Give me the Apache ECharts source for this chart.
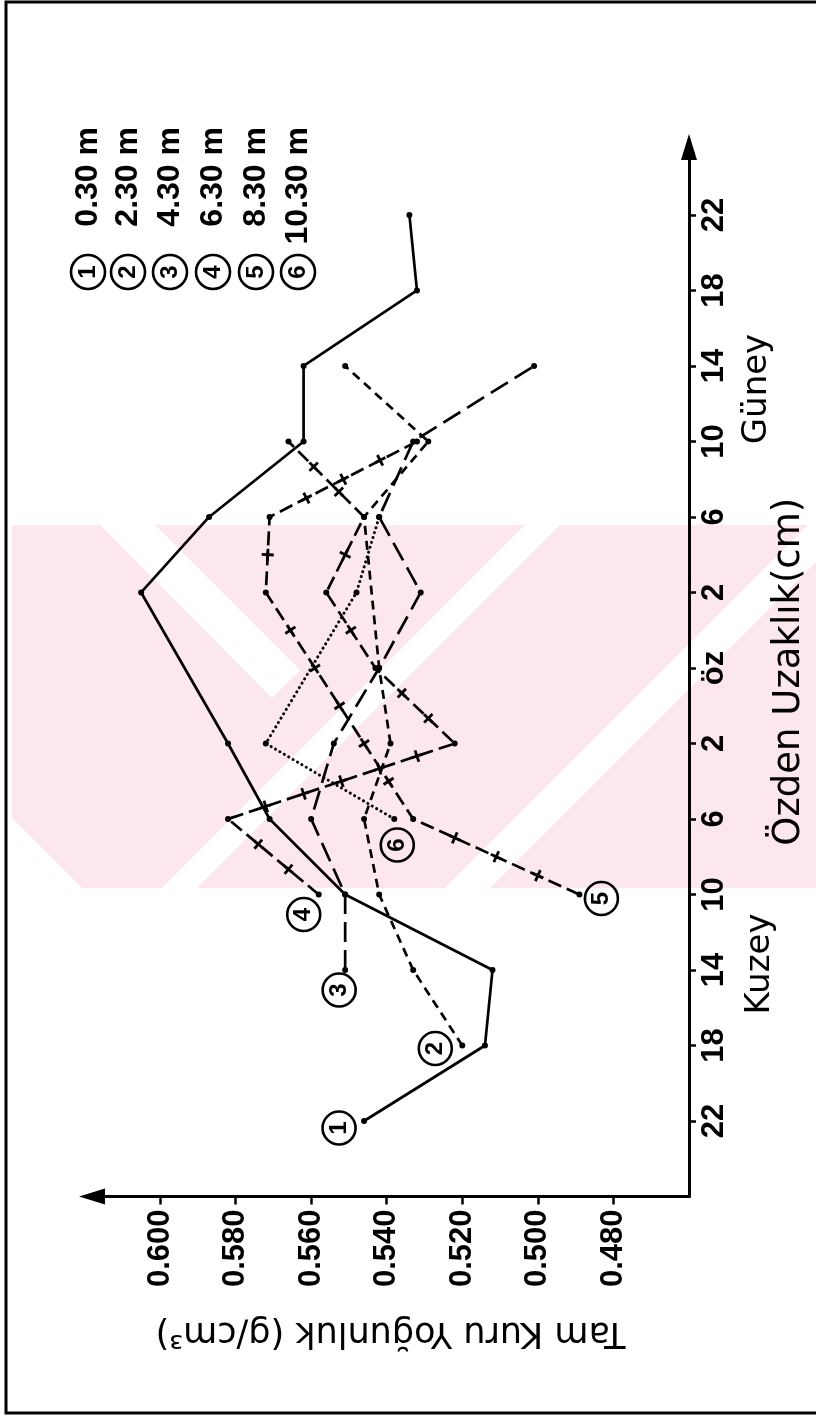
<!DOCTYPE html>
<html><head><meta charset="utf-8">
<script src="https://cdn.jsdelivr.net/npm/echarts@6/dist/echarts.min.js"></script>
<style>html,body{margin:0;padding:0;background:#fff}#c{width:816px;height:1418px}</style>
</head><body><div id="c"></div>
<script>
// distance-from-pith categories (index 0 = 22 cm Kuzey ... 6 = öz ... 12 = 22 cm Güney)
const distanceLabels = ['22','18','14','10','6','2','öz','2','6','10','14','18','22'];
const densityTicks = [0.48, 0.50, 0.52, 0.54, 0.56, 0.58, 0.60];
const depthNames = ['0.30 m', '2.30 m', '4.30 m', '6.30 m', '8.30 m', '10.30 m'];
const markers = ['1', '2', '3', '4', '5', '6'];
// [density g/cm3, distance index]
const s1 = [[0.546,0],[0.514,1],[0.512,2],[0.551,3],[0.571,4],[0.582,5],[0.605,7],[0.587,8],[0.562,9],[0.562,10],[0.532,11],[0.534,12]];
const s2 = [[0.520,1],[0.533,2],[0.542,3],[0.546,4],[0.539,5],[0.542,6],[0.546,8],[0.529,9],[0.551,10]];
const s3 = [[0.551,2],[0.551,3],[0.560,4],[0.554,5],[0.542,6],[0.531,7],[0.542,8],[0.533,9],[0.501,10]];
const s4 = [[0.558,3],[0.582,4],[0.522,5],[0.543,6],[0.556,7],[0.546,8],[0.566,9]];
const s5 = [[0.489,3],[0.533,4],[0.572,7],[0.571,8],[0.532,9]];
const s6 = [[0.538,4],[0.572,5],[0.548,7],[0.542,8]];

const FONT = 'Liberation Sans';
const WFONT = 'DejaVu Sans';
const tickIdx = distanceLabels.map((_, i) => i);

const circleRich = {
  c: { width: 33, height: 33, lineHeight: 33, borderRadius: 17, borderWidth: 2.6, borderColor: '#000',
       align: 'center', verticalAlign: 'middle', fontSize: 24, fontWeight: 'bold', fontFamily: FONT, color: '#000' }
};

function lineSeries(arr, num, dash, off, extra) {
  const data = arr.map((p, i) => i === 0 ? {
    value: p,
    label: { show: true, position: 'inside', offset: off, rotate: 90, formatter: '{c|' + num + '}', rich: circleRich }
  } : p);
  return Object.assign({
    type: 'line', data: data, symbol: 'circle', symbolSize: 6, showAllSymbol: true,
    itemStyle: { color: '#000' },
    lineStyle: { color: '#000', width: 2.7, type: dash },
    label: { show: false }, z: 3, silent: true
  }, extra || {});
}

function crossSeries(arr) {
  return {
    type: 'custom', coordinateSystem: 'cartesian2d', silent: true, z: 4,
    data: arr.slice(0, -1),
    renderItem: function (params, api) {
      const i = params.dataIndex;
      const a = api.coord(arr[i]), b = api.coord(arr[i + 1]);
      const dx = b[0] - a[0], dy = b[1] - a[1], len = Math.hypot(dx, dy);
      const n = Math.max(0, Math.round(len / 42) - 1);
      const ux = dx / len, uy = dy / len, px = -uy, py = ux;
      const ch = [];
      for (let k = 1; k <= n; k++) {
        const t = k / (n + 1), cx = a[0] + dx * t, cy = a[1] + dy * t;
        ch.push({ type: 'line', shape: { x1: cx - px * 6, y1: cy - py * 6, x2: cx + px * 6, y2: cy + py * 6 }, style: { stroke: '#000', lineWidth: 2.8 } });
        ch.push({ type: 'line', shape: { x1: cx - ux * 6, y1: cy - uy * 6, x2: cx + ux * 6, y2: cy + uy * 6 }, style: { stroke: '#000', lineWidth: 2.8 } });
      }
      return { type: 'group', children: ch };
    }
  };
}

const PINK = '#fce8ec';
const legendX = [88, 128, 170, 213, 256, 298];
const graphics = [
  // faint watermark band of the scanned page
  { type: 'rect', z: -100, silent: true, shape: { x: 12, y: 525, width: 804, height: 363 }, style: { fill: PINK } },
  { type: 'polygon', z: -99, silent: true, shape: { points: [[100, 525], [155, 525], [300, 670], [272, 698]] }, style: { fill: '#fff' } },
  { type: 'polygon', z: -99, silent: true, shape: { points: [[525, 525], [560, 525], [197, 888], [162, 888]] }, style: { fill: '#fff' } },
  { type: 'polygon', z: -99, silent: true, shape: { points: [[808, 525], [853, 525], [490, 888], [445, 888]] }, style: { fill: '#fff' } },
  { type: 'polygon', z: -99, silent: true, shape: { points: [[12, 818], [12, 888], [82, 888]] }, style: { fill: '#fff' } },
  { type: 'rect', shape: { x: 6, y: 2, width: 830, height: 1411 }, style: { fill: 'none', stroke: '#000', lineWidth: 3 }, z: 10 },
  { type: 'text', x: 760, y: 964, rotation: Math.PI / 2, style: { text: 'Kuzey', font: '34px "' + WFONT + '"', fill: '#000', align: 'center', verticalAlign: 'middle' } },
  { type: 'text', x: 757, y: 389, rotation: Math.PI / 2, style: { text: 'Güney', font: '34px "' + WFONT + '"', fill: '#000', align: 'center', verticalAlign: 'middle' } }
];
depthNames.forEach((nm, i) => {
  graphics.push({ type: 'circle', shape: { cx: legendX[i], cy: 272, r: 17 }, style: { fill: 'none', stroke: '#000', lineWidth: 2.6 } });
  graphics.push({ type: 'text', x: legendX[i], y: 272, rotation: Math.PI / 2, style: { text: markers[i], font: 'bold 24px "' + FONT + '"', fill: '#000', align: 'center', verticalAlign: 'middle' } });
  graphics.push({ type: 'text', x: legendX[i], y: 127, rotation: Math.PI / 2, style: { text: nm, font: 'bold 32px "' + FONT + '"', fill: '#000', align: 'right', verticalAlign: 'middle' } });
});

const chart = echarts.init(document.getElementById('c'), null, { renderer: 'canvas' });
chart.setOption({
  animation: false,
  backgroundColor: '#fff',
  grid: { left: 92, right: 122, top: 147, bottom: 221.5, containLabel: false },
  xAxis: {
    type: 'value', inverse: true, min: 0.46, max: 0.618,
    axisLine: { onZero: false, symbol: ['triangle', 'none'], symbolSize: [16, 26], lineStyle: { color: '#000', width: 3 } },
    axisTick: { customValues: densityTicks, length: 8, lineStyle: { color: '#000', width: 2.5 } },
    axisLabel: { customValues: densityTicks, rotate: 90, margin: 13, fontSize: 31, fontWeight: 'bold', fontFamily: FONT, color: '#000', formatter: v => v.toFixed(3) },
    splitLine: { show: false },
    name: 'Tam Kuru Yoğunluk (g/cm³)', nameLocation: 'middle', nameRotate: 180, nameGap: 118,
    nameTextStyle: { fontSize: 35, fontFamily: WFONT, color: '#000' }
  },
  yAxis: {
    type: 'value', position: 'right', min: -1, max: 12.9,
    axisLine: { onZero: false, symbol: ['none', 'triangle'], symbolSize: [16, 26], lineStyle: { color: '#000', width: 3 } },
    axisTick: { customValues: tickIdx, length: 7, lineStyle: { color: '#000', width: 2.5 } },
    axisLabel: { customValues: tickIdx, rotate: 90, margin: 10, fontSize: 31, fontWeight: 'bold', fontFamily: FONT, color: '#000', formatter: v => distanceLabels[Math.round(v)] },
    splitLine: { show: false },
    name: 'Özden Uzaklık(cm)', nameLocation: 'middle', nameRotate: 90, nameGap: 82,
    nameTextStyle: { fontSize: 37, fontFamily: WFONT, color: '#000' }
  },
  series: [
    lineSeries(s1, markers[0], 'solid', [-7, -25]),
    lineSeries(s2, markers[1], [9, 6], [-3, -27]),
    lineSeries(s3, markers[2], [20, 8], [-20, -6]),
    lineSeries(s4, markers[3], [14, 6], [-20, -15]),
    lineSeries(s5, markers[4], [14, 6], [-4, 22]),
    lineSeries(s6, markers[5], [0.1, 5], [-26, 3], { lineStyle: { color: '#000', width: 3, type: [0.1, 5], cap: 'round' } }),
    crossSeries(s4),
    crossSeries(s5)
  ],
  graphic: graphics
});
</script></body></html>
